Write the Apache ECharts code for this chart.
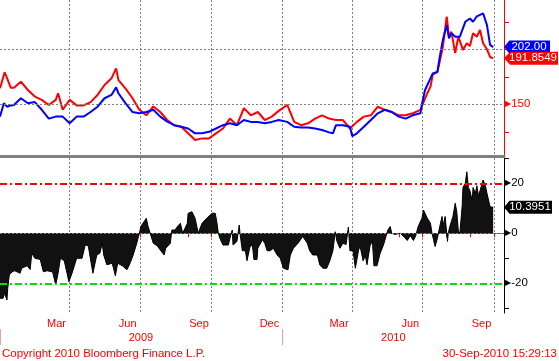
<!DOCTYPE html>
<html><head><meta charset="utf-8">
<script src="https://cdn.jsdelivr.net/npm/echarts@6/dist/echarts.min.js"></script>
<style>html,body{margin:0;padding:0;background:#fff}#c{width:559px;height:361px}</style>
</head><body><div id="c"></div>
<script>
// ---- data (days are offsets from 2009-01-01) ----
const START_YEAR = 2009;
const DAY_COUNT = 652;
const MONTH_NAMES = ['Jan','Feb','Mar','Apr','May','Jun','Jul','Aug','Sep','Oct','Nov','Dec'];
const LABEL_MONTHS = [2,5,8,11];
const GRID_MONTHS = [0,3,6,9];

const redDays = [0,6,9,14,18,27,36,45,54,63,72,75,81,90,99,108,117,126,135,144,150,153,162,171,180,189,198,207,216,225,234,243,252,261,270,279,288,297,306,315,324,333,342,351,360,371,380,389,398,407,416,425,434,443,452,461,470,479,488,497,506,515,524,533,543,545,551,556,559,565,568,572,577,580,583,588,592,598,603,607,611,616,620,624,629,633,637];
const redVals = [164.5,179,174,165,165,170.6,163,157,154,149.4,154,160,145,154,149,149,152,158.5,167.5,173.6,182.7,172,164.5,155.7,145,140,148,143,135.7,131,129.6,123.6,117.5,119,119,123.6,128,137,131,146.4,140,143,135.7,138.8,144,149.4,134,131,132.7,137,140,137,135.7,135.7,128,134,138.8,140,147.8,145,143,140,140,141.8,145,145,158.5,166,177,179.5,188.8,202,229.6,211.5,216,196.5,211.5,199.4,205.5,203,214.5,211.5,217.5,205.5,200,193,191.8549];

const blueDays = [0,5,9,14,18,27,36,45,54,63,72,81,90,99,108,117,126,135,144,150,153,162,171,180,189,198,207,216,225,234,243,252,261,270,279,288,297,306,315,324,333,342,351,360,371,380,389,398,407,416,425,430,434,443,452,455,461,470,479,488,497,506,515,524,533,543,545,549,556,559,565,568,572,577,580,583,588,594,601,607,611,616,624,629,633,637];
const blueVals = [138.8,151,147.8,149,149.4,155.5,151,152,145,137,138.8,138.8,132.7,138.8,138.8,143,147.8,155.5,158.5,165.4,160,151,143,141.8,143,145,138.8,134.2,131,129.6,128,123.6,123.6,125,128,131,132.7,131,135.7,134,134,132.7,134,135.7,134,129.6,129,129,128,126.6,124.5,123.6,131,131,129.6,121,123.6,129.6,135.7,141.8,145,143,138.8,137,140,141.8,150,163,173.6,178,179.5,193,208.5,222,210,214.5,211.5,211.5,225,228,225,230,232.7,222,204,202.00];

const barDays = [0,4,6,9,10,12,16,19,26,28,35,39,41,45,52,56,61,68,72,75,78,83,89,93,99,106,110,114,116,120,125,129,132,134,138,145,149,152,158,164,168,172,176,180,182,189,191,194,198,203,207,212,214,220,222,226,230,233,236,242,243,248,252,256,261,267,274,278,280,282,284,288,295,297,300,301,306,309,310,313,317,319,323,326,328,332,333,339,342,345,349,353,358,362,366,372,375,379,385,391,397,400,404,410,413,417,422,426,430,433,435,439,443,447,450,452,456,459,463,465,469,472,474,478,481,483,487,491,495,497,501,504,506,510,517,523,526,530,534,537,540,545,547,552,556,558,562,565,568,571,572,575,578,579,581,585,588,590,592,594,597,598,601,603,605,607,610,611,614,616,618,620,624,627,629,633,637];
const barVals = [-26,-26,-24,-26.7,-22,-16.6,-15.4,-15,-16,-14,-13,-14.5,-8,-10,-10.5,-15.4,-15,-15.5,-20.7,-16,-10,-11,-19.4,-16,-10,-10,-4.7,-5,-8.7,-16,-8.7,-8,-4,-8.7,-12.6,-12,-17,-12,-13,-14.6,-12,-8.7,-4.7,0,2.7,6,3,0,-4,-5,-6.7,-8.7,-6,-4,1.3,1.3,3,4,0,4,8,8.6,6,0,4,6,8,8,4.6,0,-2,-4.7,-4.7,-2,1.3,-4.7,-3.3,3.3,0,-7,-7,-11,-5.3,-4.7,-10.5,-10.5,-6,-2.6,-4,-7,-7,-6,-8.7,-10,-14,-14.6,-8.7,-6,-4,-1.3,-4,-7,-8.7,-8.7,-12.6,-14,-14,-11,-7,0.6,-3,-6,-4,-4.5,2.5,-7,-7,-14,-7,-5,-11,-9,-12.6,-5,-3,-13,-13,-8,-5,-4.7,1.3,2.7,0,-0.5,0,-1.8,-2.9,-1,-2.9,-1,2.6,6,9.3,6,4,0,-5.3,-2,2.7,6.7,2.7,6.7,-3.3,0,2.7,6.7,12,8.6,1,0,11,18.3,20,24.6,18.3,17,13,18.3,16,19,15,17,21.3,19,16,10.6,10.3951];

const topTicks = [125,150,175,200,225];
const topLabels = [150];
const topGridLevels = [150,200];
const botTicks = [-30,-20,-10,0,10,20,30];
const botLabels = [-20,0,20];
const upperLevel = 20, lowerLevel = -20;

// ---- build ----
const cats = [];
const t0 = Date.UTC(START_YEAR,0,1);
for (let i=0;i<DAY_COUNT;i++){ cats.push(new Date(t0+i*86400000).toISOString().slice(0,10)); }
const monthOf = v => +v.slice(5,7)-1;
const dayOf = v => +v.slice(8,10);
const isMonthStart = v => dayOf(v)===1;
const isGridDay = (i,v) => i>0 && dayOf(v)===1 && GRID_MONTHS.includes(monthOf(v));
const isMonthLabel = v => dayOf(v)===15 && LABEL_MONTHS.includes(monthOf(v));
const yearLabelIdx = [];
{ let s=0; for (let i=1;i<=DAY_COUNT;i++){ if(i===DAY_COUNT || cats[i].slice(5)==='01-01'){ yearLabelIdx.push(Math.round((s+i-1)/2)); s=i; } } }
const pair = (d,v) => d.map((x,i)=>[x,v[i]]);
const last = a => a[a.length-1];

const RED='#ff0000', BLUE='#0000ff', GREEN='#00e000', GRIDC='#808080';
const FONT='Liberation Sans, Arial, sans-serif';
const ARROW='path://M0,6L6,0L52,0L52,12L6,12Z';
const dotted = {color:GRIDC,type:[2,2],width:1};

function valueTag(xi, yi, val, txt, color, w){
  return {type:'scatter',xAxisIndex:xi,yAxisIndex:yi,data:[[DAY_COUNT-1,val]],symbol:ARROW,
    symbolSize:[w,13],symbolOffset:[w/2,0],symbolKeepAspect:false,itemStyle:{color:color,opacity:1},
    label:{show:true,position:'inside',formatter:()=>txt,color:'#fff',fontSize:11.5,fontFamily:FONT,offset:[2,0]},
    clip:false,silent:true,z:10,emphasis:{disabled:true}};
}

const chart = echarts.init(document.getElementById('c'));
chart.setOption({
  animation:false,
  backgroundColor:'#fff',
  textStyle:{fontFamily:FONT},
  grid:[{left:0,right:55,top:0,height:156},{left:0,right:55,top:158,height:155}],
  xAxis:[
    {gridIndex:0,type:'category',data:cats,boundaryGap:false,
     axisLine:{show:true,lineStyle:{color:'#808080',width:3}},
     axisTick:{show:false},axisLabel:{show:false},
     splitLine:{show:true,interval:isGridDay,lineStyle:dotted}},
    {gridIndex:1,type:'category',data:cats,boundaryGap:false,
     axisLine:{show:true,lineStyle:{color:RED,width:1}},
     axisTick:{show:true,interval:(i,v)=>isMonthStart(v),length:4,lineStyle:{color:RED}},
     axisLabel:{show:true,interval:(i,v)=>isMonthLabel(v),formatter:v=>MONTH_NAMES[monthOf(v)],color:RED,fontSize:11,margin:5},
     splitLine:{show:true,interval:isGridDay,lineStyle:dotted}},
    {gridIndex:1,type:'category',data:cats,boundaryGap:false,position:'bottom',offset:16,
     axisLine:{show:false},
     axisTick:{show:true,interval:(i,v)=>v.slice(5)==='01-01',length:16,lineStyle:{color:'#f4a0a0'}},
     axisLabel:{show:true,interval:(i)=>yearLabelIdx.includes(i),formatter:v=>v.slice(0,4),color:RED,fontSize:11,margin:3},
     splitLine:{show:false}}
  ],
  yAxis:[
    {gridIndex:0,type:'value',position:'right',min:103,max:244.8,
     axisLine:{show:true,lineStyle:{color:RED,width:1}},
     axisTick:{show:true,customValues:topTicks,length:5,lineStyle:{color:RED}},
     axisLabel:{show:true,customValues:topLabels,color:RED,fontSize:11.5,margin:1,
       formatter:v=>'{t|\u25B6}'+v,rich:{t:{fontSize:8,color:RED,fontFamily:'DejaVu Sans'}}},
     splitLine:{show:false}},
    {gridIndex:1,type:'value',position:'right',min:-31.9,max:30.1,
     axisLine:{show:true,lineStyle:{color:'#000',width:1}},
     axisTick:{show:true,customValues:botTicks,length:5,lineStyle:{color:'#000'}},
     axisLabel:{show:true,customValues:botLabels,color:'#000',fontSize:11.5,margin:1,
       formatter:v=>'{t|\u25B6}'+v,rich:{t:{fontSize:8,color:'#000',fontFamily:'DejaVu Sans'}}},
     splitLine:{show:false}}
  ],
  series:[
    {type:'line',xAxisIndex:0,yAxisIndex:0,data:pair(redDays,redVals),symbol:'none',
     lineStyle:{color:RED,width:2},itemStyle:{color:RED},silent:true,
     markLine:{silent:true,symbol:'none',label:{show:false},lineStyle:dotted,data:topGridLevels.map(v=>({yAxis:v}))}},
    {type:'line',xAxisIndex:0,yAxisIndex:0,data:pair(blueDays,blueVals),symbol:'none',
     lineStyle:{color:BLUE,width:2},itemStyle:{color:BLUE},silent:true},
    {type:'line',xAxisIndex:1,yAxisIndex:1,data:pair(barDays,barVals),symbol:'none',
     lineStyle:{color:'#000',width:1},itemStyle:{color:'#000'},areaStyle:{color:'#111',opacity:1},silent:true,
     markLine:{silent:true,symbol:'none',label:{show:false},data:[
       {yAxis:0,lineStyle:dotted},
       {yAxis:upperLevel,lineStyle:{color:RED,type:[7,3,2,3],width:2}},
       {yAxis:lowerLevel,lineStyle:{color:GREEN,type:[7,3,2,3],width:2}}]}},
    valueTag(0,0,last(blueVals),last(blueVals).toFixed(2),BLUE,46),
    valueTag(0,0,last(redVals),last(redVals).toFixed(4),RED,54),
    valueTag(1,1,last(barVals),last(barVals).toFixed(4),'#000',48)
  ],
  graphic:[
    {type:'text',left:2,bottom:1,style:{text:'Copyright 2010 Bloomberg Finance L.P.',fill:RED,font:'11.5px Liberation Sans'}},
    {type:'text',right:2,bottom:1,style:{text:'30-Sep-2010 15:29:13',fill:RED,font:'11.5px Liberation Sans'}}
  ]
});
</script></body></html>
